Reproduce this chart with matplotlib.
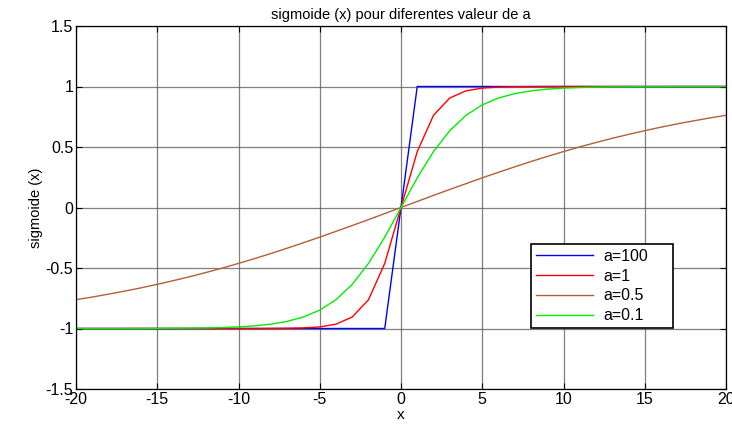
import matplotlib
matplotlib.use("Agg")
import matplotlib.pyplot as plt

x = list(range(-20, 21))

pos_red = [0, 0.462, 0.762, 0.905, 0.964, 0.987, 0.995, 0.998, 0.999, 1.0, 1.0,
           1.0, 1.0, 1.0, 1.0, 1.0, 1.0, 1.0, 1.0, 1.0, 1.0]
pos_green = [0, 0.245, 0.462, 0.635, 0.762, 0.848, 0.905, 0.941, 0.964, 0.978, 0.987,
             0.992, 0.995, 0.997, 0.998, 0.999, 0.999, 1.0, 1.0, 1.0, 1.0]
pos_brown = [0, 0.050, 0.100, 0.149, 0.197, 0.245, 0.291, 0.336, 0.380, 0.422, 0.462,
             0.501, 0.537, 0.572, 0.604, 0.635, 0.664, 0.691, 0.716, 0.740, 0.762]
pos_blue = [0] + [1.0] * 20

y_a100 = [-v for v in pos_blue[:0:-1]] + pos_blue
y_a1 = [-v for v in pos_red[:0:-1]] + pos_red
y_a05 = [-v for v in pos_brown[:0:-1]] + pos_brown
y_a01 = [-v for v in pos_green[:0:-1]] + pos_green

labels = ["a=100", "a=1", "a=0.5", "a=0.1"]
colors = ["#0000ff", "#ff0000", "#b0603a", "#00ee00"]

plt.rcParams['font.family'] = ['Liberation Sans', 'DejaVu Sans']
plt.rcParams['axes.unicode_minus'] = False
fig = plt.figure(figsize=(7.32, 4.28), dpi=100)
ax = fig.add_axes([76/732, 1 - 389/428, 650/732, 363/428])

for ys, lab, c in zip([y_a100, y_a1, y_a05, y_a01], labels, colors):
    ax.plot(x, ys, color=c, lw=1.0, label=lab)

ax.set_xlim(-20, 20)
ax.set_ylim(-1.5, 1.5)
ax.set_xticks(range(-20, 21, 5))
ax.set_yticks([-1.5, -1, -0.5, 0, 0.5, 1, 1.5])
ax.set_yticklabels(["-1.5", "-1", "-0.5", "0", "0.5", "1", "1.5"])
ax.grid(True, color="#606060", lw=0.9, alpha=0.8)
ax.tick_params(direction="in", top=True, right=True, labelsize=11.5, length=4, pad=2)
for s in ax.spines.values():
    s.set_linewidth(0.9)
ax.set_title("sigmoide (x) pour diferentes valeur de a", fontsize=10.5, pad=5)
ax.set_xlabel("x", fontsize=11, labelpad=1)
ax.set_ylabel("sigmoide (x)", fontsize=10.5, labelpad=2)

leg = ax.legend(loc="lower left", bbox_to_anchor=(0.70, 0.168, 0.218, 0.232), mode="expand",
                fancybox=False, framealpha=1, edgecolor="black", fontsize=11.5,
                handlelength=3.6, borderaxespad=0, labelspacing=0.3, handletextpad=0.6,
                borderpad=0.3)
leg.get_frame().set_linewidth(1.2)

fig.savefig("out.png", dpi=100)
